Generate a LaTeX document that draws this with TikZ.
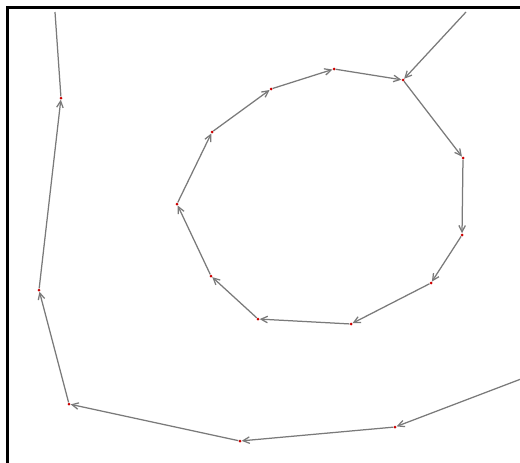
\documentclass[tikz,border=0pt]{standalone}
\usetikzlibrary{arrows.meta}
\tikzset{
  vtx/.style={circle,fill=red!80!black,inner sep=0pt,minimum size=3pt},
  link/.style={draw=black!52,line width=1.25pt,-{Straight Barb[length=6.5pt,width=6.5pt]}},
  plain/.style={draw=black!52,line width=1.25pt}
}
\begin{document}
\begin{tikzpicture}[x=1pt,y=-1pt]
\useasboundingbox (0,0) rectangle (520,463);
\fill[white] (0,0) rectangle (520,463);
\draw[line width=3pt] (520,7.5) -- (7.5,7.5) -- (7.5,463);
% outer path
\coordinate (o0) at (521,379);
\node[vtx] (o1) at (395,427) {};
\node[vtx] (o2) at (240,441) {};
\node[vtx] (o3) at (69,404) {};
\node[vtx] (o4) at (39,290) {};
\node[vtx] (o5) at (61,98) {};
\coordinate (o6) at (55,12);
\draw[link] (o0) -- (o1);
\draw[link] (o1) -- (o2);
\draw[link] (o2) -- (o3);
\draw[link] (o3) -- (o4);
\draw[link] (o4) -- (o5);
\draw[plain] (o5) -- (o6);
% ring
\coordinate (r0) at (466,12);
\node[vtx] (c1) at (403,80) {};
\node[vtx] (c2) at (463,158) {};
\node[vtx] (c3) at (462,235) {};
\node[vtx] (c4) at (431,283) {};
\node[vtx] (c5) at (351,324) {};
\node[vtx] (c6) at (258,319) {};
\node[vtx] (c7) at (211,276) {};
\node[vtx] (c8) at (177,204) {};
\node[vtx] (c9) at (212,132) {};
\node[vtx] (c10) at (271,89) {};
\node[vtx] (c11) at (334,69) {};
\draw[link] (r0) -- (c1);
\draw[link] (c1) -- (c2);
\draw[link] (c2) -- (c3);
\draw[link] (c3) -- (c4);
\draw[link] (c4) -- (c5);
\draw[link] (c5) -- (c6);
\draw[link] (c6) -- (c7);
\draw[link] (c7) -- (c8);
\draw[link] (c8) -- (c9);
\draw[link] (c9) -- (c10);
\draw[link] (c10) -- (c11);
\draw[link] (c11) -- (c1);
\end{tikzpicture}
\end{document}
